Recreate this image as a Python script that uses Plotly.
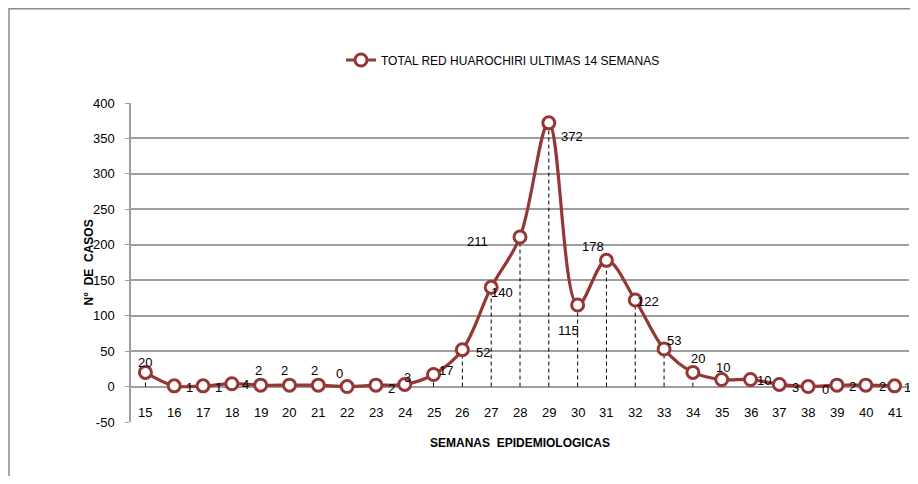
import plotly.graph_objects as go

# ---- data ----
weeks = list(range(15, 42))
cases = [20, 1, 1, 4, 2, 2, 2, 0, 2, 3, 17, 52, 140, 211, 372, 115, 178, 122, 53, 20, 10, 10, 3, 0, 2, 2, 1]
series_name = "TOTAL RED HUAROCHIRI ULTIMAS 14 SEMANAS"
y_ticks = list(range(-50, 401, 50))
y_tick_text = [str(v) for v in y_ticks]

# label offsets in pixels (xshift, yshift) - placement of each data label
label_dx = [0, 15, 15, 14, -2, -5, -4, -8, 16, 3, 12, 21, 11, -43, 23, -9, -13, 13, 10, 5, 1, 13, 16, 17, 16, 17, 13]
label_dy = [10, -2, -2, -1, 15, 15, 15, 13, -3, 7, 4, -3, -5, -5, -14, -25, 14, -1, 8, 14, 12, -1, -3, -3, -1, -1, -2]

RED = "#953735"
FONT = "Liberation Sans Narrow, Arial Narrow, Liberation Sans, sans-serif"

# page offset of the figure (body margin) and plot-area pixel box on the page
OFF = 8
PL, PR, PT, PB = 131, 909, 103, 422
W, H = 910, 468


def px(x):
    return (x - PL) / (PR - PL)


def py(y):
    return (PB - y) / (PB - PT)


fig = go.Figure()

# drop lines
dx, dy = [], []
for w, c in zip(weeks, cases):
    dx += [w, w, None]
    dy += [0, c, None]
fig.add_trace(go.Scatter(x=dx, y=dy, mode="lines", line=dict(color="black", width=1, dash="4px,3px"),
                         showlegend=False, hoverinfo="skip"))

fig.add_trace(go.Scatter(
    x=weeks, y=cases, mode="lines+markers", name=series_name,
    line=dict(color=RED, width=3.2, shape="spline", smoothing=1.0),
    marker=dict(symbol="circle", size=12, color="white", line=dict(color=RED, width=3)),
))

ann = []
for w, c, sx, sy in zip(weeks, cases, label_dx, label_dy):
    ann.append(dict(x=w, y=c, xref="x", yref="y", text=str(c), showarrow=False,
                    xshift=sx, yshift=sy, font=dict(family=FONT, size=13, color="black")))
for w in weeks:
    ann.append(dict(x=w, y=-37, xref="x", yref="y", text=str(w), showarrow=False,
                    font=dict(family=FONT, size=13, color="black")))
ann.append(dict(x=px(520), y=py(443), xref="paper", yref="paper", text="<b>SEMANAS  EPIDEMIOLOGICAS</b>",
                xanchor="center", yanchor="middle",
                showarrow=False, font=dict(family=FONT, size=12, color="black")))
ann.append(dict(x=px(88), y=0.5, xref="paper", yref="paper", text="<b>N°  DE  CASOS</b>",
                xanchor="center", yanchor="middle",
                textangle=-90, showarrow=False, font=dict(family=FONT, size=12, color="black")))

fig.update_layout(
    width=W, height=H,
    margin=dict(l=PL - OFF, r=OFF + W - PR, t=PT - OFF, b=OFF + H - PB, pad=0),
    paper_bgcolor="white", plot_bgcolor="white",
    font=dict(family=FONT, size=12, color="black"),
    annotations=ann,
    showlegend=True,
    legend=dict(orientation="h", x=px(503), y=py(60), xanchor="center", yanchor="middle",
                font=dict(family=FONT, size=12, color="black"), bgcolor="rgba(0,0,0,0)"),
    shapes=[dict(type="rect", xref="paper", yref="paper",
                 x0=px(9), x1=px(940), y0=py(520), y1=py(8.7),
                 line=dict(color="#8c8c8c", width=1.5), fillcolor="rgba(0,0,0,0)", layer="below")],
)
fig.update_xaxes(range=[14.5, 41.5], showticklabels=False, showgrid=False, zeroline=False,
                 showline=False, ticks="")
fig.update_yaxes(range=[-50, 400], tickvals=y_ticks, ticktext=y_tick_text,
                 showgrid=True, gridcolor="#9e9e9e", gridwidth=1.5,
                 zeroline=True, zerolinecolor="#9e9e9e", zerolinewidth=1.5,
                 showline=True, linecolor="#9e9e9e", linewidth=1.5,
                 ticks="outside", ticklen=4, tickcolor="#9e9e9e", ticklabelstandoff=8,
                 tickfont=dict(family=FONT, size=13, color="black"))

fig.write_html("out.html")
